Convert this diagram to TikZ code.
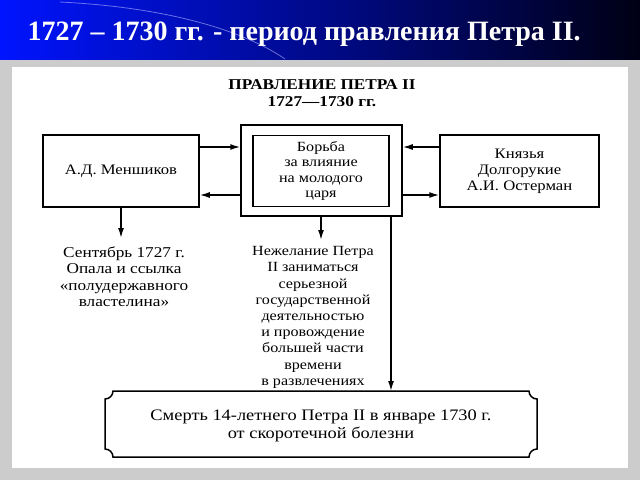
\documentclass[tikz,border=0pt]{standalone}
\usepackage{fontspec}
\setmainfont{Liberation Serif}
\newfontfamily\wide[FakeStretch=1.15]{Liberation Serif}
\usetikzlibrary{arrows.meta}
\begin{document}
\begin{tikzpicture}[x=1pt,y=-1pt,
  box/.style={draw,line width=1.5pt,inner sep=0pt},
  txt/.style={font=\wide\fontsize{14.5}{16}\selectfont,align=center},
  arr/.style={-{Latex[length=10pt,width=6pt]},line width=1.5pt}]
\useasboundingbox (0,0) rectangle (640,480);
\fill[gray!40] (0,0) rectangle (640,480);
\shade[left color={rgb,255:red,0;green,20;blue,255}, right color={rgb,255:red,0;green,0;blue,20}] (0,0) rectangle (640,59);
\draw[white!70!blue,opacity=0.6,line width=0.8pt] (60,2) .. controls (180,8) and (250,35) .. (285,59);
\node[anchor=west,text=white,font=\fontsize{28}{30}\bfseries\selectfont] (hdr) at (24,34) {1727 – 1730 гг. - период правления Петра II.};
\fill[white] (12,67) rectangle (628,468);
\node[txt,font=\wide\fontsize{15}{16.5}\bfseries\selectfont] (title) at (322,93) {ПРАВЛЕНИЕ ПЕТРА II\\1727—1730 гг.};
\node[box,minimum width=156pt,minimum height=72pt,txt] (men) at (121,171) {А.Д. Меншиков};
\node[box,minimum width=161pt,minimum height=91pt] (cout) at (321.5,170.5) {};
\node[box,minimum width=136pt,minimum height=71pt,txt,font=\wide\fontsize{14}{15.5}\selectfont] (cin) at (321,171) {Борьба\\за влияние\\на молодого\\царя};
\node[box,minimum width=159pt,minimum height=72pt,txt] (dol) at (519.5,171) {Князья\\Долгорукие\\А.И. Остерман};
\draw[arr] (men.east|-0,147) -- (cout.west|-0,147);
\draw[arr] (cout.west|-0,195) -- (men.east|-0,195);
\draw[arr] (dol.west|-0,147) -- (cout.east|-0,147);
\draw[arr] (cout.east|-0,195) -- (dol.west|-0,195);
\coordinate (a1) at (121,238);
\coordinate (a2) at (321,240);
\draw[arr] (men.south-|a1) -- (a1);
\draw[arr] (cout.south-|a2) -- (a2);
\node[txt,anchor=north,font=\wide\fontsize{15}{16.5}\selectfont] (sep) at (124,243) {Сентябрь 1727 г.\\Опала и ссылка\\«полудержавного\\властелина»};
\node[txt,anchor=north,font=\wide\fontsize{14}{16.2}\selectfont] (nez) at (313,243) {Нежелание Петра\\II заниматься\\серьезной\\государственной\\деятельностью\\и провождение\\большей части\\времени\\в развлечениях};
\draw[line width=1.5pt] (113,391) -- (529,391) .. controls (529,395.4) and (532.6,399) .. (537,399)
  -- (537,449) .. controls (532.6,449) and (529,452.6) .. (529,457)
  -- (113,457) .. controls (113,452.6) and (109.4,449) .. (105,449)
  -- (105,399) .. controls (109.4,399) and (113,395.4) .. (113,391) -- cycle;
\node[txt,font=\wide\fontsize{16}{18}\selectfont] (death) at (321,426) {Смерть 14-летнего Петра II в январе 1730 г.\\от скоротечной болезни};
\coordinate (dtop) at (391,391);
\draw[arr] (cout.south-|dtop) -- (dtop);
\end{tikzpicture}
\end{document}
